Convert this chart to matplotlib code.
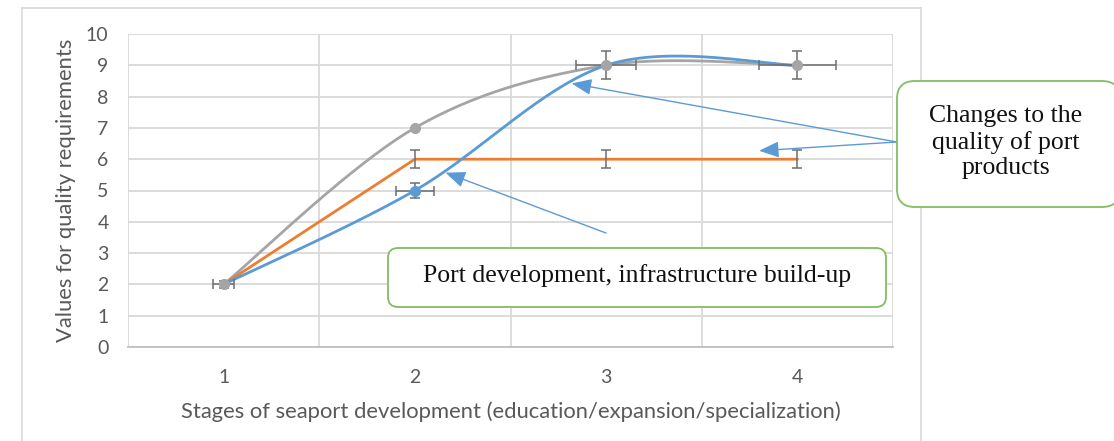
import numpy as np
import matplotlib
matplotlib.use("Agg")
import matplotlib.pyplot as plt
from matplotlib.patches import FancyBboxPatch
from matplotlib.lines import Line2D

# ---- data ----
stages = [1, 2, 3, 4]
gray_vals = [2, 7, 9, 9]
orange_vals = [2, 6, 6, 6]
blue_vals = [2, 5, 9, 9]

gray_yerr = [0.0, 0.0, 0.45, 0.45]
gray_xerr = [0.0, 0.0, 0.155, 0.2]
orange_yerr = [0.0, 0.29, 0.29, 0.29]
blue_yerr = [0.1, 0.25, 0.0, 0.0]
blue_xerr = [0.055, 0.1, 0.0, 0.0]

yticks = list(range(0, 11))
xtick_labels = ["1", "2", "3", "4"]

xlabel = "Stages of seaport development (education/expansion/specialization)"
ylabel = "Values for quality requirements"
box1_text = "Port development, infrastructure build-up"
box2_text = "Changes to the\nquality of port\nproducts"

C_BLUE = "#5B9BD5"
C_ORANGE = "#ED7D31"
C_GRAY = "#A5A5A5"
C_ERR = "#6E6E6E"
C_GRID = "#D9D9D9"
C_TEXT = "#595959"
C_GREEN = "#82BD62"

SANS = ["Lato", "DejaVu Sans"]
SERIF = ["Liberation Serif", "DejaVu Serif"]


def smooth(xs, ys, n=60):
    """Excel-like smoothing: Catmull-Rom style Bezier through points."""
    P = np.column_stack([xs, ys]).astype(float)
    m = len(P)
    out = []
    for i in range(m - 1):
        p0 = P[i - 1] if i > 0 else P[i]
        p1 = P[i]
        p2 = P[i + 1]
        p3 = P[i + 2] if i + 2 < m else P[i + 1]
        c1 = p1 + (p2 - p0) / 6.0
        c2 = p2 - (p3 - p1) / 6.0
        t = np.linspace(0, 1, n)[:, None]
        seg = ((1 - t) ** 3) * p1 + 3 * ((1 - t) ** 2) * t * c1 + 3 * (1 - t) * t ** 2 * c2 + t ** 3 * p2
        out.append(seg if i == 0 else seg[1:])
    out = np.vstack(out)
    return out[:, 0], out[:, 1]


W, H = 1114, 441
fig = plt.figure(figsize=(W / 100, H / 100), dpi=100)
fig.patch.set_facecolor("white")

ax = fig.add_axes([128 / W, 1 - 347 / H, (893 - 128) / W, (347 - 34) / H])
ax.set_xlim(0.5, 4.5)
ax.set_ylim(0, 10)

# grid
ax.set_yticks(yticks)
ax.set_xticks(stages)
ax.set_xticklabels(xtick_labels)
ax.set_xticks([0.5, 1.5, 2.5, 3.5, 4.5], minor=True)
ax.grid(True, which="major", axis="y", color=C_GRID, lw=1.3, zorder=0)
ax.grid(True, which="minor", axis="x", color=C_GRID, lw=1.3, zorder=0)
for s in ["top", "right", "left"]:
    ax.spines[s].set_visible(False)
ax.spines["bottom"].set_color("#BFBFBF")
ax.spines["bottom"].set_linewidth(1.3)
ax.tick_params(axis="both", which="both", length=0)
ax.tick_params(axis="y", pad=14, labelsize=14, labelcolor=C_TEXT)
ax.tick_params(axis="x", pad=16, labelsize=14, labelcolor=C_TEXT)
for lab in ax.get_xticklabels() + ax.get_yticklabels():
    lab.set_family(SANS)

ax.set_xlabel(xlabel, family=SANS, fontsize=15.8, color=C_TEXT, labelpad=11)
ax.set_ylabel(ylabel, family=SANS, fontsize=15.8, color=C_TEXT, labelpad=7)

# series
gx, gy = smooth(stages, gray_vals)
ax.plot(gx, gy, color=C_GRAY, lw=2.0, zorder=3, solid_capstyle="round")
ax.plot(stages, orange_vals, color=C_ORANGE, lw=2.0, zorder=4, solid_capstyle="round")
bx, by = smooth(stages, blue_vals)
ax.plot(bx, by, color=C_BLUE, lw=2.0, zorder=5, solid_capstyle="round")

# error bars
ekw = dict(fmt="none", ecolor=C_ERR, elinewidth=1.1, capsize=3.6, capthick=1.1, zorder=6)
ax.errorbar(stages, gray_vals, yerr=gray_yerr, xerr=gray_xerr, **ekw)
ax.errorbar(stages, orange_vals, yerr=orange_yerr, **ekw)
ax.errorbar(stages, blue_vals, yerr=blue_yerr, xerr=blue_xerr, **ekw)

# markers
ax.plot([stages[1]], [blue_vals[1]], "o", color=C_BLUE, ms=7, zorder=7)
ax.plot([stages[0], stages[1], stages[2], stages[3]],
        [gray_vals[0], gray_vals[1], gray_vals[2], gray_vals[3]],
        "o", color=C_GRAY, ms=7, zorder=7)

# arrows (callout pointers)
astyle = dict(arrowstyle="-|>,head_length=1.1,head_width=0.45", color=C_BLUE, lw=1.0,
              mutation_scale=11, shrinkA=0, shrinkB=0)
tail_right = (4.52, 6.55)
ax.annotate("", xy=(2.82, 8.42), xytext=tail_right, arrowprops=astyle,
            annotation_clip=False, zorder=8)
ax.annotate("", xy=(3.80, 6.27), xytext=tail_right, arrowprops=astyle,
            annotation_clip=False, zorder=8)
ax.annotate("", xy=(2.16, 5.57), xytext=(3.0, 3.64), arrowprops=astyle,
            annotation_clip=False, zorder=8)

# text boxes (figure pixel coordinates)
def px_box(x0, y0, x1, y1, rad):
    return FancyBboxPatch((x0 / W, 1 - y1 / H), (x1 - x0) / W, (y1 - y0) / H,
                          boxstyle=f"round,pad=0,rounding_size={rad / W}",
                          transform=fig.transFigure, facecolor="white",
                          edgecolor=C_GREEN, lw=1.3, zorder=10,
                          mutation_aspect=W / H)

b1 = px_box(388, 248, 886, 307, 10)
fig.patches.append(b1)
fig.text((388 + 886) / 2 / W, 1 - 276 / H, box1_text, family=SERIF, fontsize=18.5,
         ha="center", va="center", color="#111111", zorder=11)

b2 = px_box(897, 81, 1120, 207, 18)
fig.patches.append(b2)
fig.text(1006 / W, 1 - 142 / H, box2_text, family=SERIF, fontsize=18.5,
         ha="center", va="center", color="#111111", linespacing=1.2, zorder=11)

# outer chart area border
fig.add_artist(Line2D([21.5 / W, 21.5 / W], [0, 1 - 8 / H], transform=fig.transFigure,
                      color=C_GRID, lw=1.2, zorder=1))
fig.add_artist(Line2D([21.5 / W, 920.5 / W], [1 - 8 / H, 1 - 8 / H], transform=fig.transFigure,
                      color=C_GRID, lw=1.2, zorder=1))
fig.add_artist(Line2D([920.5 / W, 920.5 / W], [0, 1 - 8 / H], transform=fig.transFigure,
                      color=C_GRID, lw=1.2, zorder=1))

fig.savefig("out.png", dpi=100)
